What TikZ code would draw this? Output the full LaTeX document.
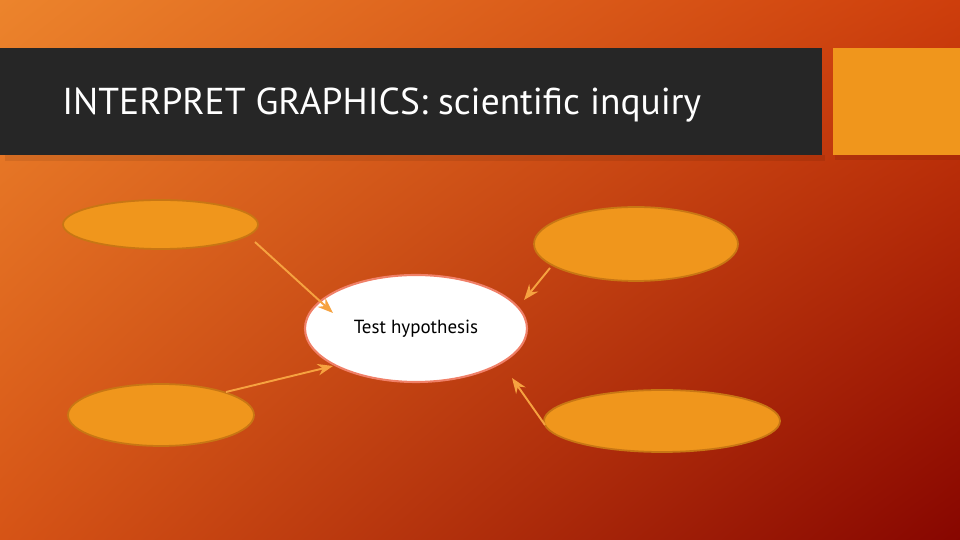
\documentclass[tikz,border=0pt]{standalone}
\usepackage{fontspec}
\setmainfont{PT Sans}
\usepackage{tikz}
\usetikzlibrary{positioning, arrows.meta, shapes.geometric, shadings}

\definecolor{bgtl}{RGB}{236,132,44}
\definecolor{bgtr}{RGB}{206,62,12}
\definecolor{bgbl}{RGB}{214,84,22}
\definecolor{bgbr}{RGB}{135,6,0}
\definecolor{barcol}{RGB}{38,38,38}
\definecolor{boxorange}{RGB}{240,150,28}
\definecolor{ringcol}{RGB}{200,118,20}
\definecolor{arrowcol}{RGB}{246,162,64}
\definecolor{whitering}{RGB}{240,128,104}

\begin{document}
\begin{tikzpicture}[
    >={Stealth[scale=1.1]},
    bubble/.style={ellipse, draw=ringcol, fill=boxorange, line width=1pt, inner sep=0pt},
    hub/.style={ellipse, draw=whitering, fill=white, line width=1.2pt, inner sep=0pt, font=\fontsize{10.8}{13}\selectfont},
    link/.style={->, draw=arrowcol, line width=1.1pt}
]
\useasboundingbox (0,0) rectangle (19.2,10.8);

% background
\shade[upper left=bgtl, upper right=bgtr, lower left=bgbl, lower right=bgbr] (0,0) rectangle (19.2,10.8);

% title bar
\fill[black, opacity=0.08] (0.1,7.58) rectangle (16.5,7.7);
\fill[barcol] (0,7.7) rectangle (16.44,9.84);
\fill[black, opacity=0.08] (16.7,7.6) rectangle (19.2,7.7);
\fill[boxorange] (16.66,7.7) rectangle (19.2,9.84);
\node[anchor=base west, text=white, inner sep=0pt, font=\fontsize{21.3}{25}\selectfont] (title) at (1.24,8.5) {INTERPRET GRAPHICS: scientific inquiry};

% ellipses
\node[hub, minimum width=4.44cm, minimum height=2.14cm] (hyp) at (8.32,4.23) {\raisebox{-0.6ex}{Test hypothesis}};
\node[bubble, minimum width=3.9cm, minimum height=0.98cm] (ul) at (3.21,6.31) {};
\node[bubble, minimum width=4.08cm, minimum height=1.48cm] (ur) at (12.72,5.92) {};
\node[bubble, minimum width=3.72cm, minimum height=1.24cm] (ll) at (3.22,2.5) {};
\node[bubble, minimum width=4.72cm, minimum height=1.24cm] (lr) at (13.24,2.38) {};

% arrows
\draw[link] ([shift={(1.89,-0.35)}]ul.center) -- ([shift={(-1.66,0.31)}]hyp.center);
\draw[link] ([shift={(-1.72,-0.48)}]ur.center) -- ([shift={(2.16,0.57)}]hyp.center);
\draw[link] ([shift={(1.30,0.46)}]ll.center) -- ([shift={(-1.66,-0.75)}]hyp.center);
\draw[link] ([shift={(-2.34,-0.08)}]lr.center) -- ([shift={(1.92,-0.99)}]hyp.center);

\end{tikzpicture}
\end{document}
